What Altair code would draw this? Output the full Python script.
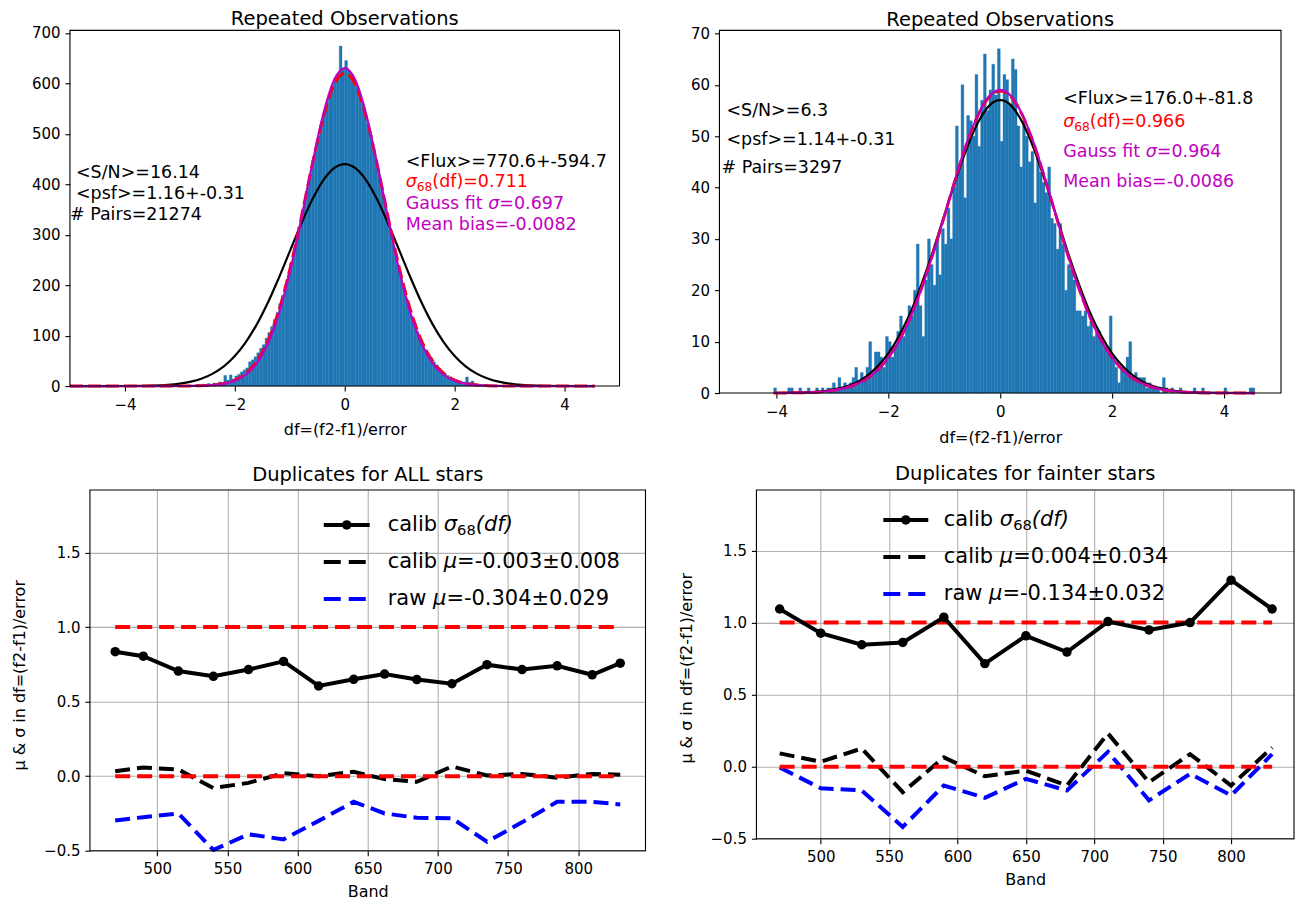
import altair as alt
import pandas as pd

FONT = "DejaVu Sans"
HIST_BLUE = "#1f77b4"
MAGENTA = "#bf00bf"
RED = "#ff0000"
BLUE = "#0000ff"

# ---------------- top-left histogram (all stars) ----------------
tl_bin_start = -2.75
tl_bin_width = 0.05
tl_counts = [2, 3, 2, 4, 3, 5, 4, 6, 5, 8, 7, 21, 12, 22, 14, 20, 23, 28, 32, 36,
             48, 52, 58, 66, 75, 82, 95, 106, 118, 132, 146, 163, 180, 200, 220, 243, 264, 290, 314, 341,
             366, 393, 420, 447, 470, 496, 519, 541, 562, 580, 596, 610, 618, 674, 628,
             645, 625, 617, 606, 594, 578, 562, 540, 520, 497, 472, 447, 421, 394, 366,
             340, 312, 286, 261, 238, 215, 194, 174, 155, 138, 122, 108, 95, 83, 72,
             63, 56, 48, 42, 35, 30, 25, 21, 18, 15, 13, 11, 9, 8, 18, 7, 10, 5, 4, 3, 3, 2, 2, 1, 1]

# ---------------- top-right histogram (fainter stars) ----------------
tr_bin_start = -4.05
tr_bin_width = 0.05
tr_counts = [1, 0, 0, 0, 0, 1, 1, 0, 0, 1, 0, 0, 1, 0, 0, 1, 0, 1, 0, 1, 1,
             2, 1, 3, 1, 2, 1, 2, 3, 5, 2, 4, 3, 5, 10, 4, 8, 8, 7, 5, 11,
             10, 7, 9, 12, 15, 11, 14, 17, 15, 20, 29, 17, 11, 22, 30, 25, 21, 30, 23, 32,
             29, 36, 30, 40, 52, 44, 60, 38, 54, 53, 50, 62, 48, 57, 66, 55, 59, 64, 58, 67,
             49, 62, 61, 56, 65, 63, 52, 44, 53, 50, 45, 47, 37, 46, 43, 41, 39, 44, 34, 33,
             28, 33, 29, 20, 25, 24, 22, 16, 16, 15, 16, 13, 14, 11, 12, 12, 10, 9, 8, 15,
             7, 5, 2, 5, 4, 7, 10, 3, 4, 3, 3, 3, 1, 2, 1, 1, 1, 0, 3, 1,
             0, 1, 0, 0, 1, 0, 0, 0, 0, 1, 0, 0, 1, 0, 0, 0, 0, 0, 0, 0, 1, 0, 0, 0, 0, 0, 0, 0, 0, 1, 1]

# ---------------- fitted curves ----------------
tl_curve_x = [-5.0, -4.5, -4.0, -3.5, -3.0, -2.8, -2.6, -2.4, -2.2, -2.0, -1.8, -1.6, -1.4, -1.2,
              -1.0, -0.8, -0.6, -0.4, -0.2, 0.0, 0.2, 0.4, 0.6, 0.8, 1.0, 1.2, 1.4, 1.6, 1.8,
              2.0, 2.2, 2.4, 2.6, 2.8, 3.0, 3.5, 4.0, 4.55]
tl_black = [0.0, 0.0, 0.15, 1.0, 4.9, 8.7, 15.0, 24.7, 39.1, 59.5, 87.1, 122.3, 165.1, 214.2,
            266.9, 319.5, 367.5, 406.2, 431.3, 440.0, 431.3, 406.2, 367.5, 319.5, 266.9, 214.2,
            165.1, 122.3, 87.1, 59.5, 39.1, 24.7, 15.0, 8.7, 4.9, 1.0, 0.15, 0.0]
tl_red = [0.0, 0.0, 0.0, 0.0, 0.1, 0.3, 0.8, 2.1, 5.2, 11.8, 25.2, 49.3, 89.2, 149.2,
          230.6, 329.2, 434.3, 529.2, 596.0, 620.0, 596.0, 529.2, 434.3, 329.2, 230.6, 149.2,
          89.2, 49.3, 25.2, 11.8, 5.2, 2.1, 0.8, 0.3, 0.1, 0.0, 0.0, 0.0]
tl_magenta = [0.0, 0.0, 0.0, 0.0, 0.1, 0.2, 0.6, 1.7, 4.3, 10.3, 22.4, 45.2, 83.8, 143.1,
              225.1, 326.0, 435.0, 534.4, 604.6, 630.0, 604.6, 534.4, 435.0, 326.0, 225.1, 143.1,
              83.8, 45.2, 22.4, 10.3, 4.3, 1.7, 0.6, 0.2, 0.1, 0.0, 0.0, 0.0]

tr_curve_x = [-4.05, -3.5, -3.0, -2.8, -2.6, -2.4, -2.2, -2.0, -1.8, -1.6, -1.4, -1.2, -1.0,
              -0.8, -0.6, -0.4, -0.2, 0.0, 0.2, 0.4, 0.6, 0.8, 1.0, 1.2, 1.4, 1.6, 1.8, 2.0,
              2.2, 2.4, 2.6, 2.8, 3.0, 3.5, 4.0, 4.55]
tr_black = [0.01, 0.12, 0.63, 1.1, 1.9, 3.2, 5.1, 7.7, 11.3, 15.8, 21.4, 27.7, 34.6, 41.4,
            47.6, 52.6, 55.9, 57.0, 55.9, 52.6, 47.6, 41.4, 34.6, 27.7, 21.4, 15.8, 11.3, 7.7,
            5.1, 3.2, 1.9, 1.1, 0.63, 0.12, 0.02, 0.0]
tr_red = [0.01, 0.08, 0.5, 0.9, 1.6, 2.7, 4.4, 6.9, 10.4, 14.9, 20.6, 27.2, 34.4, 41.7,
          48.5, 54.0, 57.6, 58.8, 57.6, 54.0, 48.5, 41.7, 34.4, 27.2, 20.6, 14.9, 10.4, 6.9,
          4.4, 2.7, 1.6, 0.9, 0.5, 0.08, 0.01, 0.0]
tr_magenta = [0.01, 0.08, 0.5, 0.9, 1.6, 2.7, 4.4, 6.9, 10.3, 14.9, 20.5, 27.2, 34.4, 41.8,
              48.6, 54.1, 57.7, 59.0, 57.7, 54.1, 48.6, 41.8, 34.4, 27.2, 20.5, 14.9, 10.3, 6.9,
              4.4, 2.7, 1.6, 0.9, 0.5, 0.08, 0.01, 0.0]

# ---------------- bottom panels ----------------
bands_all = [470, 490, 515, 540, 565, 590, 615, 640, 662, 685, 710, 735, 760, 785, 810, 830]
sigma_all = [0.835, 0.805, 0.705, 0.67, 0.715, 0.77, 0.605, 0.65, 0.685, 0.648, 0.62, 0.748,
             0.715, 0.74, 0.68, 0.758]
mu_calib_all = [0.033, 0.058, 0.045, -0.08, -0.045, 0.02, 0.0, 0.03, -0.02, -0.038, 0.065, 0.005,
                0.015, -0.01, 0.015, 0.01]
mu_raw_all = [-0.297, -0.275, -0.25, -0.495, -0.39, -0.424, -0.30, -0.172, -0.25, -0.279, -0.282,
              -0.44, -0.31, -0.172, -0.172, -0.19]

bands_faint = [470, 500, 530, 560, 590, 620, 650, 680, 710, 740, 770, 800, 830]
sigma_faint = [1.094, 0.926, 0.846, 0.862, 1.037, 0.715, 0.908, 0.795, 1.007, 0.949, 1.0, 1.294, 1.094]
mu_calib_faint = [0.092, 0.034, 0.126, -0.177, 0.064, -0.067, -0.028, -0.131, 0.23, -0.108, 0.087,
                  -0.131, 0.133]
mu_raw_faint = [-0.005, -0.15, -0.165, -0.418, -0.131, -0.216, -0.085, -0.165, 0.103, -0.234, -0.05,
                -0.2, 0.087]
ref_levels = [1.0, 0.0]

top_xticks = [-4, -2, 0, 2, 4]
tl_yticks = [0, 100, 200, 300, 400, 500, 600, 700]
tr_yticks = [0, 10, 20, 30, 40, 50, 60, 70]
band_ticks = [500, 550, 600, 650, 700, 750, 800]
mu_ticks = [-0.5, 0.0, 0.5, 1.0, 1.5]

# ---------------- helpers ----------------
ONE = pd.DataFrame({"k": [0]})
WIDTHS = {' ': .318, '#': .838, '&': .780, '(': .390, ')': .390, '+': .838, '-': .361, '.': .318,
          '/': .337, '<': .838, '=': .838, '>': .838, '±': .838, 'F': .575, 'G': .775, 'M': .863,
          'N': .748, 'P': .603, 'S': .635, 'a': .613, 'b': .635, 'c': .550, 'd': .635, 'e': .615,
          'f': .352, 'i': .278, 'l': .278, 'n': .634, 'p': .635, 'r': .411, 's': .521, 't': .392,
          'u': .634, 'w': .818, 'x': .592, 'σ': .634, 'μ': .636}


def text_width(s, size):
    return sum(WIDTHS.get(ch, 0.636) for ch in s) * size


def label(s, x, y, size, color="black", italic=False):
    return alt.Chart(ONE).mark_text(
        text=s, align="left", baseline="middle", font=FONT, fontSize=size,
        fontStyle="italic" if italic else "normal", color=color
    ).encode(x=alt.value(x), y=alt.value(y))


def rich(segs, x, y, size):
    out = []
    for s, c, kind in segs:
        if kind == "sub":
            fs = size * 0.7
            out.append(label(s, x, y + size * 0.27, fs, c))
        else:
            fs = size
            out.append(label(s, x, y, fs, c, italic=(kind == "it")))
        x += text_width(s, fs)
    return out


def hist_frame(start, width, counts):
    lo = [round(start + i * width, 4) for i in range(len(counts))]
    hi = [round(v + width, 4) for v in lo]
    return pd.DataFrame({"lo": lo, "hi": hi, "n": counts, "z": [0] * len(counts)})


def box_layer(xdom, ydom, xs, ys, xa, ya):
    df = pd.DataFrame({"x0": [xdom[0]], "x1": [xdom[1]], "y0": [ydom[0]], "y1": [ydom[1]]})
    return alt.Chart(df).mark_rect(fill="white", fillOpacity=0, stroke="black", strokeWidth=1.1).encode(
        x=alt.X("x0:Q", scale=xs, axis=xa), x2="x1:Q",
        y=alt.Y("y0:Q", scale=ys, axis=ya), y2="y1:Q")


def top_panel(hdf, cx, cblack, cred, cmag, xdom, ydom, yticks, w, h, xtitle_y, texts):
    xs = alt.Scale(domain=xdom, nice=False, zero=False)
    ys = alt.Scale(domain=ydom, nice=False, zero=False)
    xa = alt.Axis(values=top_xticks, format="d", title="df=(f2-f1)/error", grid=False,
                  titleX=w / 2, titleY=xtitle_y, titleAlign="center", titleBaseline="middle")
    ya = alt.Axis(values=yticks, format="d", title="", grid=False)
    hist = alt.Chart(hdf).mark_rect(color=HIST_BLUE, stroke=HIST_BLUE, strokeWidth=0.35).encode(
        x=alt.X("lo:Q", scale=xs, axis=xa), x2="hi:Q",
        y=alt.Y("n:Q", scale=ys, axis=ya), y2="z:Q")
    cdf = pd.DataFrame({"x": cx, "black": cblack, "red": cred, "mag": cmag})
    black = alt.Chart(cdf).mark_line(color="black", strokeWidth=2.2, interpolate="monotone").encode(
        x=alt.X("x:Q", scale=xs, axis=xa), y=alt.Y("black:Q", scale=ys, axis=ya))
    red = alt.Chart(cdf).mark_line(color=RED, strokeWidth=3, strokeDash=[13, 5],
                                   interpolate="monotone").encode(
        x=alt.X("x:Q", scale=xs, axis=xa), y=alt.Y("red:Q", scale=ys, axis=ya))
    mag = alt.Chart(cdf).mark_line(color=MAGENTA, strokeWidth=2.2, interpolate="monotone").encode(
        x=alt.X("x:Q", scale=xs, axis=xa), y=alt.Y("mag:Q", scale=ys, axis=ya))
    return alt.layer(hist, black, red, mag, box_layer(xdom, ydom, xs, ys, xa, ya), *texts).properties(
        width=w, height=h)


def bottom_panel(bands, sig, muc, mur, xdom, ydom, w, h, x0, yoff, xtitle_y, ytitle_y, legend):
    xs = alt.Scale(domain=xdom, nice=False, zero=False, range=[x0, w])
    ys = alt.Scale(domain=ydom, nice=False, zero=False)
    df = pd.DataFrame({"band": bands, "sig": sig, "muc": muc, "mur": mur})
    xa = alt.Axis(values=band_ticks, format="d", title="Band", grid=True,
                  titleX=x0 + (w - x0) / 2, titleY=xtitle_y, titleAlign="center",
                  titleBaseline="middle")
    ya = alt.Axis(values=mu_ticks, format=".1f", title="μ & σ in df=(f2-f1)/error", grid=True,
                  offset=yoff, titleX=-70, titleY=ytitle_y, titleAngle=270,
                  titleAlign="center", titleBaseline="middle")
    raw = alt.Chart(df).mark_line(color=BLUE, strokeWidth=4, strokeDash=[15, 7]).encode(
        x=alt.X("band:Q", scale=xs, axis=xa), y=alt.Y("mur:Q", scale=ys, axis=ya))
    cal = alt.Chart(df).mark_line(color="black", strokeWidth=4, strokeDash=[15, 7]).encode(
        x=alt.X("band:Q", scale=xs, axis=xa), y=alt.Y("muc:Q", scale=ys, axis=ya))
    rdf = pd.DataFrame({"band": [bands[0]] * len(ref_levels), "b": [bands[-1]] * len(ref_levels),
                        "lev": ref_levels})
    refs = alt.Chart(rdf).mark_rule(color=RED, strokeWidth=4, strokeDash=[15, 7]).encode(
        x=alt.X("band:Q", scale=xs, axis=xa), x2="b:Q", y=alt.Y("lev:Q", scale=ys, axis=ya))
    sl = alt.Chart(df).mark_line(color="black", strokeWidth=4).encode(
        x=alt.X("band:Q", scale=xs, axis=xa), y=alt.Y("sig:Q", scale=ys, axis=ya))
    sp = alt.Chart(df).mark_circle(color="black", size=90, opacity=1).encode(
        x=alt.X("band:Q", scale=xs, axis=xa), y=alt.Y("sig:Q", scale=ys, axis=ya))
    return alt.layer(raw, cal, refs, sl, sp, box_layer(xdom, ydom, xs, ys, xa, ya), *legend).properties(
        width=w, height=h)


def legend_block(hx0, hx1, tx, rows_y, mu_c, mu_r, size=21):
    out = []
    mid = (hx0 + hx1) / 2
    out.append(alt.Chart(ONE).mark_rule(color="black", strokeWidth=4).encode(
        x=alt.value(hx0), x2=alt.value(hx1), y=alt.value(rows_y[0])))
    out.append(alt.Chart(ONE).mark_circle(color="black", size=90, opacity=1).encode(
        x=alt.value(mid), y=alt.value(rows_y[0])))
    out.append(alt.Chart(ONE).mark_rule(color="black", strokeWidth=4, strokeDash=[17, 8]).encode(
        x=alt.value(hx0), x2=alt.value(hx1), y=alt.value(rows_y[1])))
    out.append(alt.Chart(ONE).mark_rule(color=BLUE, strokeWidth=4, strokeDash=[17, 8]).encode(
        x=alt.value(hx0), x2=alt.value(hx1), y=alt.value(rows_y[2])))
    out += rich([("calib ", "black", "n"), ("σ", "black", "it"), ("68", "black", "sub"),
                 ("(df)", "black", "it")], tx, rows_y[0], size)
    out += rich([("calib ", "black", "n"), ("μ", "black", "it"), (mu_c, "black", "n")],
                tx, rows_y[1], size)
    out += rich([("raw ", "black", "n"), ("μ", "black", "it"), (mu_r, "black", "n")],
                tx, rows_y[2], size)
    return out


def annotations(left, right, size=17.5):
    (lx, ly, snr, psf, px, pairs) = left
    (rx, ry, flux, s68, gfit, bias) = right
    out = [label(snr, lx, ly[0], size), label(psf, lx, ly[1], size), label(pairs, px, ly[2], size),
           label(flux, rx, ry[0], size)]
    out += rich([("σ", RED, "it"), ("68", RED, "sub"), (s68, RED, "n")], rx, ry[1], size)
    out += rich([("Gauss fit ", MAGENTA, "n"), ("σ", MAGENTA, "it"), (gfit, MAGENTA, "n")],
                rx, ry[2], size)
    out.append(label(bias, rx, ry[3], size, MAGENTA))
    return out


# ---------------- panels ----------------
tl_texts = annotations((6, [142.7, 163.7, 185.3], "<S/N>=16.14", "<psf>=1.16+-0.31", 0,
                        "# Pairs=21274"),
                       (336, [132, 152, 173.7, 194.7], "<Flux>=770.6+-594.7", "(df)=0.711",
                        "=0.697", "Mean bias=-0.0082"))
tr_texts = annotations((7, [80.3, 109.7, 137.7], "<S/N>=6.3", "<psf>=1.14+-0.31", 2,
                        "# Pairs=3297"),
                       (344, [68.7, 92, 122, 152], "<Flux>=176.0+-81.8", "(df)=0.966",
                        "=0.964", "Mean bias=-0.0086"))

title_kw = dict(fontSize=19.5, fontWeight="normal", font=FONT, frame="group", anchor="middle",
                baseline="alphabetic", color="black")

tl = top_panel(hist_frame(tl_bin_start, tl_bin_width, tl_counts), tl_curve_x, tl_black, tl_red,
               tl_magenta, [-5.0, 5.0], [0, 705], tl_yticks, 550, 356, 43, tl_texts).properties(
    title=alt.TitleParams("Repeated Observations", offset=4, dy=23, **title_kw))
tr = top_panel(hist_frame(tr_bin_start, tr_bin_width, tr_counts), tr_curve_x, tr_black, tr_red,
               tr_magenta, [-5.02, 5.02], [0, 70.6], tr_yticks, 562, 363, 44, tr_texts).properties(
    title=alt.TitleParams("Repeated Observations", offset=4, dy=23, **title_kw))

bl = bottom_panel(bands_all, sigma_all, mu_calib_all, mu_raw_all, [452, 848], [-0.5, 1.92],
                  576, 361, 20, -20, 41, 185,
                  legend_block(254, 300, 318, [35, 72, 109], "=-0.003±0.008", "=-0.304±0.029")
                  ).properties(title=alt.TitleParams("Duplicates for ALL stars", offset=8, dx=10,
                                                     dy=19, **title_kw))
br = bottom_panel(bands_faint, sigma_faint, mu_calib_faint, mu_raw_faint, [453, 846], [-0.5, 1.92],
                  538, 349, 0, 0, 41, 178,
                  legend_block(127, 172, 187.5, [30, 67, 104], "=0.004±0.034", "=-0.134±0.032")
                  ).properties(title=alt.TitleParams("Duplicates for fainter stars", offset=8,
                                                     dy=18, **title_kw))

row1 = alt.hconcat(tl, tr, spacing=100, bounds="flush")
row2 = alt.hconcat(bl, br, spacing=111, bounds="flush")

chart = alt.vconcat(row1, row2, spacing=17).properties(
    padding={"left": 3, "top": 0, "right": 0, "bottom": 0}
).configure(font=FONT).configure_axis(
    labelFont=FONT, labelFontSize=15, labelColor="black", tickColor="black", tickSize=5,
    tickWidth=1.1, titleFont=FONT, titleFontSize=16, titleFontWeight="normal", titleColor="black",
    gridColor="#b0b0b0", gridWidth=1.1, gridOpacity=1, labelFlush=False,
    labelOverlap=False, domainOpacity=0
).configure_axisX(labelPadding=6).configure_axisY(labelPadding=5).configure_view(
    stroke="transparent")

chart.save("out.html", embed_options={"renderer": "svg", "actions": False})
